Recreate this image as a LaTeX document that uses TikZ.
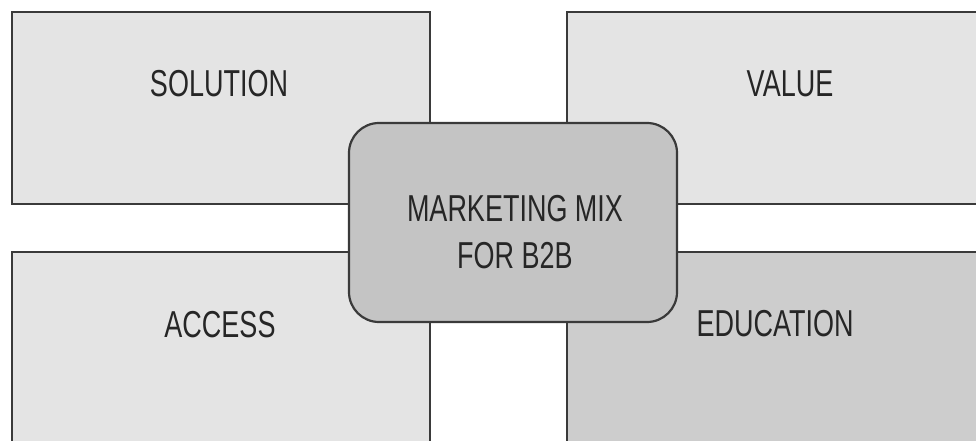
\documentclass[tikz,border=0pt]{standalone}
\usepackage{fontspec}
\setmainfont{Liberation Sans}[FakeStretch=0.72]
\definecolor{lightbox}{HTML}{E4E4E4}
\definecolor{darkbox}{HTML}{CDCDCD}
\definecolor{midbox}{HTML}{C4C4C4}
\definecolor{edge}{HTML}{3A3A3A}
\begin{document}
\begin{tikzpicture}[x=1pt,y=-1pt,
  quad/.style={draw=edge,line width=2.2pt},
  lbl/.style={font=\fontsize{37.5}{47}\selectfont,text=black!85,inner sep=0pt,align=center}]
\useasboundingbox (0,0) rectangle (976,441);
\fill[white] (0,0) rectangle (976,441);
\clip (0,0) rectangle (976,441);
\draw[quad,fill=lightbox] (12,12) rectangle (430,204);
\draw[quad,fill=lightbox] (567,12) rectangle (995,204);
\draw[quad,fill=lightbox] (12,252) rectangle (430,460);
\draw[quad,fill=darkbox] (567,252) rectangle (995,460);
\draw[quad,fill=midbox,rounded corners=30pt] (349,123) rectangle (677,322);
\node[lbl] (sol) at (219,84) {SOLUTION};
\node[lbl] (val) at (790,84) {VALUE};
\node[lbl] (acc) at (220,325) {ACCESS};
\node[lbl] (edu) at (775,324) {EDUCATION};
\node[lbl] (mix) at (515,232) {MARKETING MIX\\FOR B2B};
\end{tikzpicture}
\end{document}
